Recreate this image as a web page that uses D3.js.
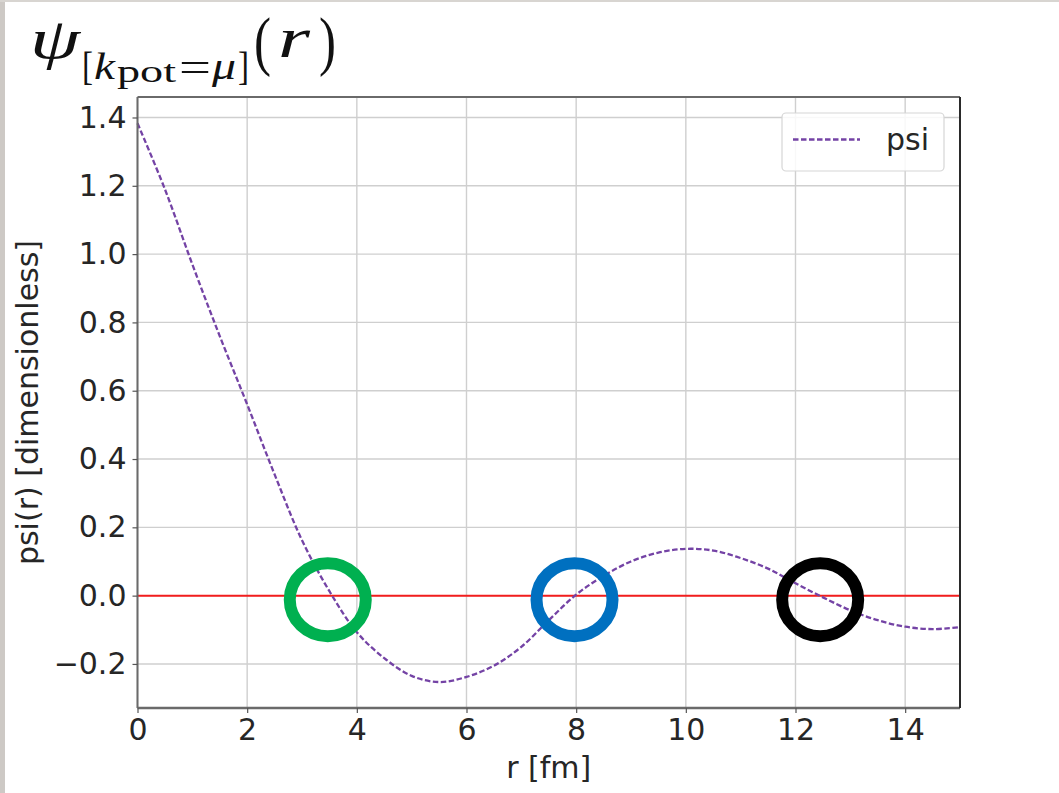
<!DOCTYPE html>
<html>
<head>
<meta charset="utf-8">
<script src="https://cdn.jsdelivr.net/npm/d3@7"></script>
<style>
  html, body { margin: 0; padding: 0; background: #ffffff; }
  svg { display: block; }
</style>
</head>
<body>
<svg id="chart" width="1059" height="793"></svg>
<script>
// Radial wavefunction psi(r), sampled every 0.5 fm
const rValues = [0, 0.5, 1, 1.5, 2, 2.5, 3, 3.5, 4, 4.5, 5, 5.5, 6, 6.5, 7, 7.5,
                 8, 8.5, 9, 9.5, 10, 10.5, 11, 11.5, 12, 12.5, 13, 13.5, 14, 14.5, 15];
const psiValues = [1.383, 1.19, 0.97, 0.76, 0.56, 0.355, 0.162, 0.013, -0.107, -0.183,
                   -0.235, -0.253, -0.238, -0.205, -0.150, -0.072, 0.003, 0.058, 0.100,
                   0.126, 0.137, 0.132, 0.110, 0.079, 0.036, -0.005, -0.043, -0.072,
                   -0.091, -0.098, -0.092];

// Tick labels
const xTicks = [0, 2, 4, 6, 8, 10, 12, 14];
const yTicks = [-0.2, 0.0, 0.2, 0.4, 0.6, 0.8, 1.0, 1.2, 1.4];

// Highlighted zero crossings (r, psi, colour)
const crossingR = [3.47, 7.97, 12.45];
const crossingPsi = [-0.012, -0.012, -0.012];
const crossingColors = ["#00b050", "#0070c0", "#000000"];

const svg = d3.select("#chart");
const W = 1059, H = 793;
const plot = { left: 137.5, right: 960, top: 97, bottom: 708 };

// page frame strips
svg.append("rect").attr("x", 0).attr("y", 0).attr("width", W).attr("height", H).attr("fill", "#ffffff");
svg.append("rect").attr("x", 0).attr("y", 0).attr("width", 5).attr("height", H).attr("fill", "#cdc9c5");
svg.append("rect").attr("x", 0).attr("y", 0).attr("width", W).attr("height", 2).attr("fill", "#d8d5d1");

const x = d3.scaleLinear().domain([0, 15]).range([plot.left, plot.right]);
const y = d3.scaleLinear().domain([-0.329, 1.46]).range([plot.bottom, plot.top]);

const font = "'DejaVu Sans', sans-serif";

// grid
const grid = svg.append("g");
grid.selectAll("line.gx").data(xTicks).join("line")
  .attr("x1", d => x(d)).attr("x2", d => x(d))
  .attr("y1", plot.top).attr("y2", plot.bottom)
  .attr("stroke", "#cfcfcf").attr("stroke-width", 1.4);
grid.selectAll("line.gy").data(yTicks).join("line")
  .attr("x1", plot.left).attr("x2", plot.right)
  .attr("y1", d => y(d)).attr("y2", d => y(d))
  .attr("stroke", "#cfcfcf").attr("stroke-width", 1.4);

// zero reference line
svg.append("line")
  .attr("x1", x(0)).attr("x2", x(15))
  .attr("y1", y(0)).attr("y2", y(0))
  .attr("stroke", "#f21d1d").attr("stroke-width", 2);

// psi curve
const line = d3.line()
  .x((d, i) => x(rValues[i]))
  .y(d => y(d))
  .curve(d3.curveCatmullRom);
svg.append("path")
  .attr("d", line(psiValues))
  .attr("fill", "none")
  .attr("stroke", "#7443a5")
  .attr("stroke-width", 2.3)
  .attr("stroke-dasharray", "5.5,2.5");

// rings around the zero crossings
svg.selectAll("ellipse.ring").data(crossingR).join("ellipse")
  .attr("cx", d => x(d))
  .attr("cy", (d, i) => y(crossingPsi[i]))
  .attr("rx", 38).attr("ry", 36.5)
  .attr("fill", "none")
  .attr("stroke", (d, i) => crossingColors[i])
  .attr("stroke-width", 12);

// spines
svg.append("line").attr("x1", plot.left).attr("x2", plot.right).attr("y1", plot.top).attr("y2", plot.top)
  .attr("stroke", "#6a6a6a").attr("stroke-width", 2);
svg.append("line").attr("x1", plot.left).attr("x2", plot.right).attr("y1", plot.bottom).attr("y2", plot.bottom)
  .attr("stroke", "#6a6a6a").attr("stroke-width", 2.5);
svg.append("line").attr("x1", plot.left).attr("x2", plot.left).attr("y1", plot.top).attr("y2", plot.bottom)
  .attr("stroke", "#6a6a6a").attr("stroke-width", 2);
svg.append("line").attr("x1", plot.right).attr("x2", plot.right).attr("y1", plot.top).attr("y2", plot.bottom)
  .attr("stroke", "#2a2a2a").attr("stroke-width", 2);

// axes
const xAxis = d3.axisBottom(x).tickValues(xTicks).tickSize(5).tickPadding(6).tickFormat(d3.format("d"));
const gx = svg.append("g").attr("transform", `translate(0,${plot.bottom})`).call(xAxis);
gx.select(".domain").remove();
gx.selectAll(".tick line").attr("stroke", "#555").attr("stroke-width", 1.2);
gx.selectAll(".tick text").attr("font-family", font).attr("font-size", 30).attr("fill", "#262626");

const yAxis = d3.axisLeft(y).tickValues(yTicks).tickSize(5).tickPadding(6)
  .tickFormat(d => d3.format(".1f")(d).replace("-", "\u2212"));
const gy = svg.append("g").attr("transform", `translate(${plot.left},0)`).call(yAxis);
gy.select(".domain").remove();
gy.selectAll(".tick line").attr("stroke", "#555").attr("stroke-width", 1.2);
gy.selectAll(".tick text").attr("font-family", font).attr("font-size", 30).attr("fill", "#262626");

// axis titles
svg.append("text")
  .attr("x", (plot.left + plot.right) / 2).attr("y", 778)
  .attr("text-anchor", "middle")
  .attr("font-family", font).attr("font-size", 30).attr("fill", "#262626")
  .text("r [fm]");
svg.append("text")
  .attr("transform", `translate(38,${(plot.top + plot.bottom) / 2}) rotate(-90)`)
  .attr("text-anchor", "middle")
  .attr("font-family", font).attr("font-size", 30).attr("fill", "#262626")
  .text("psi(r) [dimensionless]");

// legend
const legend = svg.append("g");
legend.append("rect")
  .attr("x", 782).attr("y", 113).attr("width", 162).attr("height", 58)
  .attr("rx", 4).attr("fill", "#ffffff").attr("fill-opacity", 0.85)
  .attr("stroke", "#d6d6d6").attr("stroke-width", 1.2);
legend.append("line")
  .attr("x1", 793).attr("x2", 860).attr("y1", 139.5).attr("y2", 139.5)
  .attr("stroke", "#7443a5").attr("stroke-width", 2.3)
  .attr("stroke-dasharray", "5.5,2.5");
legend.append("text")
  .attr("x", 886).attr("y", 150)
  .attr("font-family", font).attr("font-size", 30).attr("fill", "#262626")
  .text("psi");

// title: psi_[k_pot = mu](r)
const serif = "'Liberation Serif', 'DejaVu Serif', serif";
const title = svg.append("g").attr("fill", "#111");
function piece(txt, px, py, size, italic, len) {
  const t = title.append("text")
    .attr("x", px).attr("y", py)
    .attr("font-family", serif).attr("font-size", size)
    .attr("font-style", italic ? "italic" : "normal")
    .text(txt);
  if (len) t.attr("textLength", len).attr("lengthAdjust", "spacingAndGlyphs");
  return t;
}
piece("\u03C8", 30, 58, 58, true, 50);
piece("[", 82, 80, 40, false, 11);
piece("k", 94, 79, 38, true, 21);
piece("pot", 117, 82, 32, false, 59);
piece("=", 179, 81, 42, false, 32);
piece("\u03BC", 212, 79, 38, true, 24);
piece("]", 238, 80, 40, false, 11);
piece("(", 254, 63, 66, false, 17);
piece("r", 278, 57, 58, true, 32);
piece(")", 319, 63, 66, false, 17);
</script>
</body>
</html>
